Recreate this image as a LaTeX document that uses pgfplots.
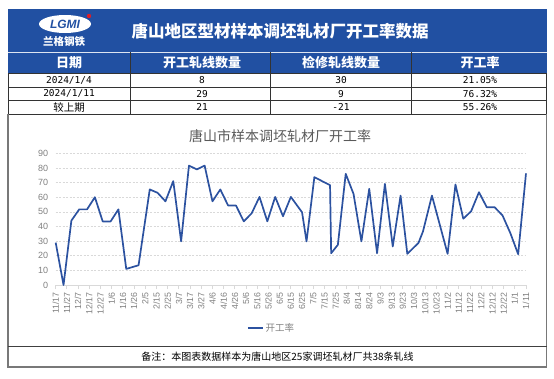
\documentclass[border=0pt]{standalone}
\usepackage{pgfplots}
\pgfplotsset{compat=1.18}
\usepackage{fontspec}
\setmainfont{Liberation Sans}
\newfontfamily\cjk{Noto Sans CJK SC}
\newfontfamily\mono{DejaVu Sans Mono}
\definecolor{hdrblue}{RGB}{33,80,162}
\definecolor{linecol}{RGB}{44,82,160}
\definecolor{gridgray}{RGB}{217,217,217}
\definecolor{tickgray}{RGB}{128,128,128}
\definecolor{titlegray}{RGB}{89,89,89}
\definecolor{framegray}{RGB}{120,120,120}
\definecolor{logored}{RGB}{220,30,40}
\begin{document}
\begin{tikzpicture}[x=1pt,y=1pt]
\useasboundingbox (0,0) rectangle (554,-378);
% header band
\fill[hdrblue] (8,-8.5) rectangle (546.5,-73);
\draw[white!85!hdrblue, line width=0.6pt] (8,-52) -- (546.5,-52);
% logo
\fill[white] (65,-24) ellipse [x radius=26, y radius=9];
\node[hdrblue, font=\bfseries\itshape\fontsize{12}{12}\selectfont] at (65,-24) {LGMI};
\fill[logored] (89,-16) circle (2.2);
\node[white, font=\cjk\bfseries\itshape\fontsize{10.5}{11}\selectfont] at (64,-42) {兰格钢铁};
% title
\node[white, font=\cjk\bfseries\fontsize{16.5}{18}\selectfont] at (280,-31) {唐山地区型材样本调坯轧材厂开工率数据};
% column headers
\begin{scope}[every node/.style={white, font=\cjk\bfseries\fontsize{13}{14}\selectfont}]
\node at (69,-62.5) {日期};
\node at (202,-62.5) {开工轧线数量};
\node at (341,-62.5) {检修轧线数量};
\node at (480,-62.5) {开工率};
\end{scope}
% data rows
\begin{scope}[every node/.style={black, font=\mono\fontsize{9.5}{10}\selectfont}]
\node at (69,-80) {2024/1/4};
\node at (202,-80) {8};
\node at (341,-80) {30};
\node at (480,-80) {21.05\%};
\node at (69,-93.7) {2024/1/11};
\node at (202,-93.7) {29};
\node at (341,-93.7) {9};
\node at (480,-93.7) {76.32\%};
\node[font=\cjk\fontsize{10.5}{11}\selectfont] at (69,-107.2) {较上期};
\node at (202,-107.2) {21};
\node at (341,-107.2) {-21};
\node at (480,-107.2) {55.26\%};
\end{scope}
% table grid
\draw[black!80, line width=0.6pt] (8,-73) -- (546.5,-73) (8,-87) -- (546.5,-87) (8,-100.5) -- (546.5,-100.5) (8,-114) -- (546.5,-114);
\draw[black!80, line width=0.6pt] (130,-52) -- (130,-114) (270.5,-52) -- (270.5,-114) (411,-52) -- (411,-114);
\draw[black!80, line width=0.6pt] (8,-73) -- (8,-114) (546.5,-73) -- (546.5,-114);
% chart frame
\draw[framegray, line width=1.5pt] (7.8,-114) -- (7.8,-367) -- (546.3,-367) -- (546.3,-114);
\draw[black!75, line width=0.8pt] (8,-346) -- (546.5,-346);
% chart title
\node[titlegray, font=\cjk\fontsize{14}{15}\selectfont] at (280,-136) {唐山市样本调坯轧材厂开工率};
% note
\node[black, font=\cjk\fontsize{10}{11}\selectfont] at (277.5,-357) {备注：本图表数据样本为唐山地区25家调坯轧材厂共38条轧线};
\begin{axis}[
  at={(55.7pt,-285pt)}, anchor=south west,
  scale only axis, width=470.3pt, height=131.7pt,
  xmin=0, xmax=420, ymin=0, ymax=90,
  axis x line*=bottom, axis y line*=left,
  x axis line style={draw=gridgray, line width=0.8pt, -},
  y axis line style={draw=none},
  ytick={0,10,...,90},
  xtick={0,10,...,420},
  xticklabels={11/17,11/27,12/7,12/17,12/27,1/6,1/16,1/26,2/5,2/15,2/25,3/7,3/17,3/27,4/6,4/16,4/26,5/6,5/16,5/26,6/5,6/15,6/25,7/5,7/15,7/25,8/4,8/14,8/24,9/3,9/13,9/23,10/3,10/13,10/23,11/2,11/12,11/22,12/2,12/12,12/22,1/1,1/11},
  tick align=outside,
  major tick length=4pt,
  xtick style={draw=gridgray, line width=0.8pt},
  ytick style={draw=none},
  ymajorgrids,
  grid style={draw=gridgray, line width=0.6pt, dash pattern=on 2pt off 1.5pt},
  /pgf/number format/assume math mode=true,
  yticklabel style={font=\fontsize{9}{10}\selectfont, text=tickgray, xshift=0pt},
  xticklabel style={font=\fontsize{8.8}{10}\selectfont, text=tickgray, rotate=90, anchor=east},
  clip=false,
  legend style={at={(axis description cs:0.459,-0.3265)}, anchor=center, draw=none, fill=none,
    font=\cjk\fontsize{9.5}{10}\selectfont, text=tickgray, inner sep=0pt},
  legend image code/.code={\draw[#1] (0pt,0pt) -- (15pt,0pt);},
]
\addplot[color=linecol, line width=1.7pt, line join=round] table {
x y
0 28.95
7 0
14 44.0
21 51.7
28 51.7
35 60.0
42 43.4
49 43.4
56 51.7
63 11.0
74 13.5
84 65.3
91 63.0
98 57.2
105 71.0
112 29.8
119 81.6
126 79.0
133 81.6
140 57.2
147 65.3
154 54.3
161 54.3
168 43.5
175 49.0
182 60.2
189 43.5
196 60.2
203 47.0
210 60.2
220 49.7
224 29.8
231 73.7
245 68.2
246 21.7
252 27.5
259 76.0
266 62.2
273 29.8
280 65.7
287 21.7
294 69.1
301 26.3
308 61.1
314 21.3
324 28.8
328 36.6
336 61.1
350 21.3
357 68.7
364 45.3
371 50.4
378 63.4
385 53.1
392 53.1
399 47.6
406 35.5
413 21.05
420 76.32
};
\addlegendentry{开工率}
\end{axis}
\end{tikzpicture}
\end{document}
